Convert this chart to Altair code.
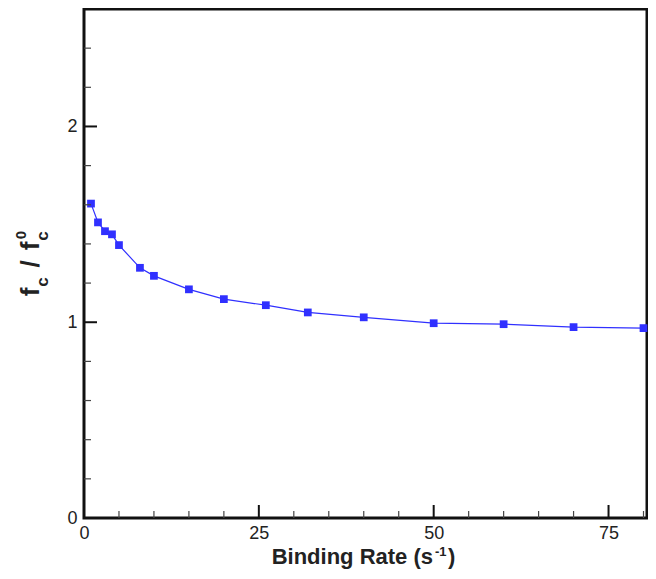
import altair as alt
import pandas as pd

# data
rate = [1, 2, 3, 4, 5, 8, 10, 15, 20, 26, 32, 40, 50, 60, 70, 80]
ratio = [1.606, 1.510, 1.465, 1.449, 1.394, 1.278, 1.237, 1.168, 1.118,
         1.087, 1.050, 1.025, 0.995, 0.990, 0.975, 0.970]

x_labels = [0, 25, 50, 75]
x_minor = [5, 10, 15, 20, 30, 35, 40, 45, 55, 60, 65, 70, 80]
y_labels = [0, 1, 2]
y_minor = [0.2, 0.4, 0.6, 0.8, 1.2, 1.4, 1.6, 1.8, 2.2, 2.4]

x_title_parts = ["Binding Rate (s", "-1", ")"]
y_title_parts = ["f", "c", "/", "f", "0", "c"]

W, H = 563, 509
FONT = "Liberation Sans"
BLUE = "#3030ff"

xs = alt.Scale(domain=[0, 80.5], nice=False, zero=False)
ys = alt.Scale(domain=[0, 2.6], nice=False, zero=False)

df = pd.DataFrame({"rate": rate, "ratio": ratio})

xaxis = alt.Axis(values=x_labels, ticks=False, tickSize=0, domain=False, grid=False,
                 title=None, labelFont=FONT, labelFontSize=18, labelColor="#222222",
                 labelPadding=6, format="d", labelFlush=False, labelOverlap=False)
yaxis = alt.Axis(values=y_labels, ticks=False, tickSize=0, domain=False, grid=False,
                 title=None, labelFont=FONT, labelFontSize=18, labelColor="#222222",
                 labelPadding=7, format="d", labelFlush=False, labelOverlap=False)

line = alt.Chart(df).mark_line(color=BLUE, strokeWidth=1.2).encode(
    x=alt.X("rate:Q", scale=xs, axis=xaxis),
    y=alt.Y("ratio:Q", scale=ys, axis=yaxis),
)
pts = alt.Chart(df).mark_square(color=BLUE, size=60, opacity=1, filled=True).encode(
    x=alt.X("rate:Q", scale=xs),
    y=alt.Y("ratio:Q", scale=ys),
)

def xticks(vals, length, width, color):
    return alt.Chart(pd.DataFrame({"v": vals})).mark_rule(
        color=color, strokeWidth=width).encode(
        x=alt.X("v:Q", scale=xs),
        y=alt.value(H), y2=alt.value(H - length))

def yticks(vals, length, width, color):
    return alt.Chart(pd.DataFrame({"v": vals})).mark_rule(
        color=color, strokeWidth=width).encode(
        y=alt.Y("v:Q", scale=ys),
        x=alt.value(0), x2=alt.value(length))

def label(text, px, py, size, align="center", angle=0):
    kw = dict(font=FONT, fontSize=size, fontWeight="bold", color="#222222",
              align=align, baseline="alphabetic")
    if angle:
        kw["angle"] = angle
    return alt.Chart(pd.DataFrame({"t": [text]})).mark_text(**kw).encode(
        text="t:N", x=alt.value(px), y=alt.value(py))

# plot origin is at page (84, 9)
titles = [
    label(x_title_parts[0], 349, 555, 22, "right"),
    label(x_title_parts[1], 351, 547, 13, "left"),
    label(x_title_parts[2], 364, 555, 22, "left"),
    label(y_title_parts[0], -45, 283, 26, "center", 270),
    label(y_title_parts[1], -36, 273, 17, "center", 270),
    label(y_title_parts[2], -45, 255, 26, "center", 270),
    label(y_title_parts[3], -45, 237, 26, "center", 270),
    label(y_title_parts[4], -58, 226, 15, "center", 270),
    label(y_title_parts[5], -36, 227, 17, "center", 270),
]

chart = alt.layer(
    line, pts,
    xticks(x_labels, 13, 2, "#111111"), xticks(x_minor, 7, 1.2, "#444444"),
    yticks(y_labels, 13, 2, "#111111"), yticks(y_minor, 7, 1.2, "#444444"),
    *titles,
).properties(
    width=W, height=H,
    autosize=alt.AutoSizeParams(type="none"),
    padding={"left": 76, "top": 1, "right": 1, "bottom": 53},
).configure_view(stroke="#111111", strokeWidth=3)

chart.save("out.html", embed_options={"renderer": "svg", "actions": False})
